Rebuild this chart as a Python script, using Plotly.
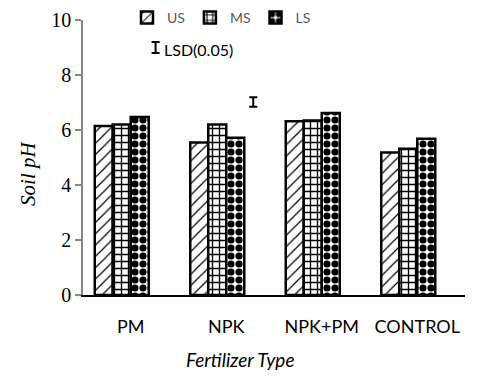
import plotly.graph_objects as go

categories = ["PM", "NPK", "NPK+PM", "CONTROL"]
us_values = [6.15, 5.55, 6.32, 5.18]
ms_values = [6.20, 6.20, 6.35, 5.32]
ls_values = [6.47, 5.72, 6.62, 5.68]
lsd_values = [None, 7.02, None, None]
lsd_error = [0, 0.17, 0, 0]
y_ticks = [0, 2, 4, 6, 8, 10]

x_pos = list(range(len(categories)))

fig = go.Figure()

def add_bar(name, vals, shape, size, solidity):
    fig.add_trace(go.Bar(
        name=name, x=x_pos, y=vals,
        marker=dict(color="white",
                    line=dict(color="black", width=2.5),
                    pattern=dict(shape=shape, fgcolor="black", bgcolor="white",
                                 size=size, solidity=solidity, fillmode="replace")),
    ))

add_bar("US", us_values, "/", 8, 0.15)
add_bar("MS", ms_values, "+", 7, 0.35)
add_bar("LS", ls_values, ".", 8, 0.62)

fig.add_trace(go.Bar(
    name="LSD(0.05)", x=x_pos, y=lsd_values, showlegend=False,
    marker=dict(color="rgba(0,0,0,0)", line=dict(width=0)),
    error_y=dict(type="data", array=lsd_error, color="black", thickness=2, width=4),
))

fig.update_layout(
    width=489, height=384,
    margin=dict(l=75, r=32, t=12, b=97, autoexpand=False),
    paper_bgcolor="white", plot_bgcolor="white",
    barmode="group", bargap=0.246, bargroupgap=0,
    showlegend=True,
    legend=dict(orientation="h", xref="container", yref="container",
                x=119 / 489, y=1 - 10 / 384, xanchor="left", yanchor="middle",
                font=dict(family="Lato", size=14, color="#595959"),
                itemwidth=30, tracegroupgap=0, bgcolor="rgba(0,0,0,0)"),
    xaxis=dict(range=[-0.5, 3.5], tickmode="array", tickvals=x_pos, ticktext=categories,
               showline=True, linecolor="black", linewidth=2, ticks="", showgrid=False,
               zeroline=False, ticklabelstandoff=14, automargin=False,
               tickfont=dict(family="Lato", size=18, color="black")),
    yaxis=dict(range=[0, 10], tickmode="array", tickvals=y_ticks,
               showline=True, linecolor="#868686", linewidth=1.5,
               ticks="outside", ticklen=6, tickcolor="#868686", tickwidth=1.5,
               showgrid=False, zeroline=False, automargin=False,
               tickfont=dict(family="Liberation Serif", size=20, color="black")),
    annotations=[
        dict(text="Soil pH", xref="paper", yref="paper", x=-0.144, y=0.444,
             xanchor="center", yanchor="middle", textangle=-90, showarrow=False,
             font=dict(family="Liberation Serif", size=21, color="black", style="italic")),
        dict(text="Fertilizer Type", xref="paper", yref="paper", x=0.41, y=-0.236,
             xanchor="center", yanchor="middle", showarrow=False,
             font=dict(family="Lato", size=19, color="black", style="italic")),
        dict(text="LSD(0.05)", xref="paper", yref="paper", x=0.207, y=0.893,
             xanchor="left", yanchor="middle", showarrow=False,
             font=dict(family="Lato", size=16, color="black")),
    ],
    shapes=[
        dict(type="line", xref="paper", yref="paper", x0=0.19, x1=0.19, y0=0.88, y1=0.92,
             line=dict(color="black", width=2)),
        dict(type="line", xref="paper", yref="paper", x0=0.1795, x1=0.2005, y0=0.88, y1=0.88,
             line=dict(color="black", width=2)),
        dict(type="line", xref="paper", yref="paper", x0=0.1795, x1=0.2005, y0=0.92, y1=0.92,
             line=dict(color="black", width=2)),
    ],
)

fig.write_html("out.html")
